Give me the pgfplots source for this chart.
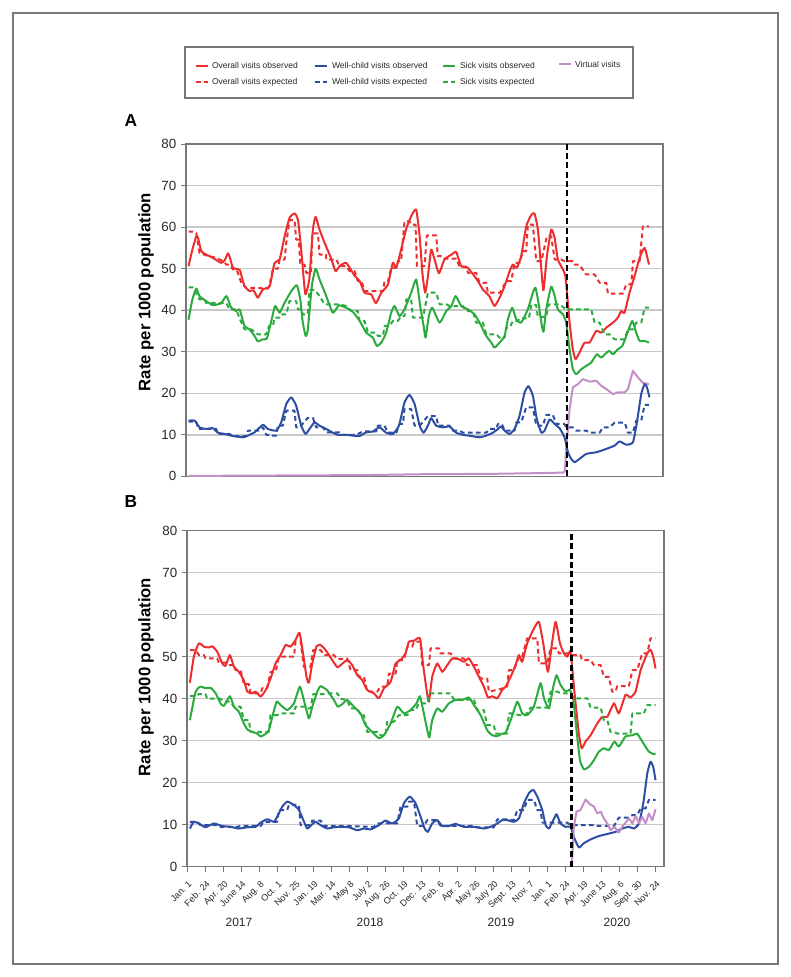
\documentclass[border=0pt]{standalone}
\usepackage{fontspec}
\setmainfont{Liberation Sans}
\usepackage{pgfplots}
\pgfplotsset{compat=1.18}
\definecolor{cred}{RGB}{237,45,46}
\definecolor{cblue}{RGB}{46,78,163}
\definecolor{cgreen}{RGB}{43,171,61}
\definecolor{cpurp}{RGB}{196,142,200}
\definecolor{cgrid}{RGB}{200,200,200}
\definecolor{caxis}{RGB}{120,120,120}
\definecolor{ctext}{RGB}{40,40,40}
\tikzset{
 obs/.style={solid, smooth, tension=0.3},
 exp/.style={dash pattern=on 3.5pt off 2.5pt},
 vline/.style={black, line width=1.8pt, dash pattern=on 4.5pt off 2.5pt},
}
\pgfplotsset{
 panel/.style={
  scale only axis, width=357.75pt,
  xmin=-0.05, xmax=26.45, ymin=0, ymax=80,
  ytick={0,10,...,80}, ymajorgrids,
  grid style={color=cgrid, line width=1.1pt},
  axis line style={color=caxis, line width=1.1pt},
  major tick style={color=caxis, line width=0.8pt},
  major tick length=3.75pt,
  tick align=outside, tick pos=left,
  yticklabel style={font=\fontsize{10}{12}\selectfont, color=ctext},
  /pgf/number format/assume math mode=true,
  every axis plot/.append style={line width=1.5pt, line join=round},
 },
}
\begin{document}
\begin{tikzpicture}
\useasboundingbox (0,0) rectangle (593.25pt,732.75pt);
\draw[caxis, line width=0.8pt] (9.75pt,9.75pt) rectangle (583.5pt,723pt);
% legend
\draw[caxis, line width=1.1pt] (138.75pt,659.25pt) rectangle (474.75pt,697.5pt);
\begin{scope}[font=\fontsize{6.4}{7.5}\selectfont, text=ctext, line width=1.5pt]
\draw[cred] (147pt,683.5pt) -- (156pt,683.5pt);
\node[anchor=west, inner sep=0pt] at (158.25pt,683.5pt) {Overall visits observed};
\draw[cred, exp] (147pt,671.25pt) -- (156pt,671.25pt);
\node[anchor=west, inner sep=0pt] at (158.25pt,671.25pt) {Overall visits expected};
\draw[cblue] (236.25pt,683.5pt) -- (245.25pt,683.5pt);
\node[anchor=west, inner sep=0pt] at (248.25pt,683.5pt) {Well-child visits observed};
\draw[cblue, exp] (236.25pt,671.25pt) -- (245.25pt,671.25pt);
\node[anchor=west, inner sep=0pt] at (248.25pt,671.25pt) {Well-child visits expected};
\draw[cgreen] (332.25pt,683.5pt) -- (341.25pt,683.5pt);
\node[anchor=west, inner sep=0pt] at (344.25pt,683.5pt) {Sick visits observed};
\draw[cgreen, exp] (332.25pt,671.25pt) -- (341.25pt,671.25pt);
\node[anchor=west, inner sep=0pt] at (344.25pt,671.25pt) {Sick visits expected};
\draw[cpurp] (419.25pt,684.75pt) -- (428.25pt,684.75pt);
\node[anchor=west, inner sep=0pt] at (430.5pt,684.75pt) {Virtual visits};
\end{scope}
% panel labels
\node[font=\bfseries\fontsize{13}{15}\selectfont] at (98.25pt,642pt) {A};
\node[font=\bfseries\fontsize{13}{15}\selectfont] at (98.25pt,356.25pt) {B};
\node[rotate=90, font=\bfseries\fontsize{12.5}{15}\selectfont] at (109.5pt,513.75pt) {Rate per 1000 population};
\node[rotate=90, font=\bfseries\fontsize{12.5}{15}\selectfont] at (109.5pt,225pt) {Rate per 1000 population};
% years
\begin{scope}[font=\fontsize{9}{11}\selectfont, text=ctext]
\node at (179.25pt,41.25pt) {2017};
\node at (277.5pt,41.25pt) {2018};
\node at (375.75pt,41.25pt) {2019};
\node at (462.75pt,41.25pt) {2020};
\end{scope}

%================ PANEL A
\begin{axis}[panel, at={(139.5pt,375.5pt)}, anchor=south west, height=249.2pt, xtick=\empty]
\addplot[cpurp] coordinates {(0.09,0.1) (5,0.2) (10,0.3) (13,0.5) (17,0.6) (20,0.8) (20.9,0.9) (21.0,1.2) (21.07,6.6) (21.26,16.2) (21.44,21.4) (21.72,22.2) (22.0,23.4) (22.37,22.8) (22.74,23) (23.02,21.8) (23.3,21) (23.67,19.8) (23.94,20.2) (24.31,20.2) (24.5,21) (24.78,25.4) (25.06,23.8) (25.33,22.5) (25.67,22.2)};
% overall expected
\addplot[cred, exp] coordinates {(0.09,58.9) (0.43,58.9) (0.52,58.6) (0.7,53.8) (1.07,53.2) (1.63,52.6) (2.0,51.8) (2.19,51) (2.37,51) (2.56,49.8) (2.74,49.8) (2.83,49) (3.02,46.6) (3.3,45.4) (3.57,45.4) (4.5,45.2) (4.59,46) (4.78,50) (5.06,50) (5.15,52.2) (5.43,52.2) (5.52,56.2) (5.7,61.7) (5.98,61.7) (6.07,57) (6.22,57) (6.3,51) (6.54,51) (6.63,49) (6.9,49) (6.96,58.5) (7.28,58.5) (7.37,53.4) (7.74,53.4) (7.74,52.2) (8.3,52.2) (8.48,50.6) (8.85,50.6) (9.04,49.4) (9.31,49.4) (9.5,47) (9.7,47) (9.87,44.6) (10.89,44.6) (10.98,47) (11.17,47) (11.35,50.2) (11.63,50.2) (11.72,51.8) (11.9,51.8) (12.09,61.4) (12.37,61.4) (12.46,60.6) (12.7,60.6) (12.78,50.6) (13.2,50.6) (13.33,58) (13.85,58) (13.94,53) (14.22,53) (14.31,52.4) (14.96,52.4) (15.15,50.5) (15.52,50.5) (15.61,49) (16.07,49) (16.26,46.6) (16.63,46.6) (16.72,44.2) (17.4,44.2) (17.74,47) (18.02,47) (18.2,51.4) (18.48,51.4) (18.67,54.2) (18.85,54.2) (18.94,60.6) (19.22,60.6) (19.41,51.8) (19.69,51.8) (20.0,57.8) (20.24,57.8) (20.43,52.2) (20.8,52.2) (20.98,51.8) (21.44,51.8) (21.52,51) (21.8,51) (22.17,48.6) (22.65,48.6) (22.93,46.6) (23.3,46.6) (23.39,44) (24.22,44) (24.41,46.2) (24.69,46.2) (24.78,51.8) (25.15,51.8) (25.33,60.2) (25.67,60.2)};
\addplot[cred, obs] coordinates {(0.09,50.6) (0.3,54.5) (0.52,57.8) (0.62,57.4) (0.8,54.2) (1.07,53.4) (1.44,52.6) (1.9,51.4) (2.1,52) (2.28,53.7) (2.4,52.5) (2.56,50.2) (2.93,49.7) (3.05,48) (3.2,45.8) (3.48,44.6) (3.7,44.8) (3.94,43.0) (4.22,45) (4.6,45.8) (4.87,51.4) (5.15,52.2) (5.43,57.8) (5.7,62.2) (5.98,63.3) (6.17,61.8) (6.35,54.6) (6.5,47) (6.59,43.8) (6.8,47.4) (7.0,59.4) (7.15,62.5) (7.37,59.4) (7.65,56.2) (8.0,52.6) (8.26,49.4) (8.48,50.6) (8.85,51.4) (9.33,48.2) (9.6,47) (9.87,44.2) (10.24,43.8) (10.5,41.7) (10.8,44.2) (11.17,46.2) (11.44,51.4) (11.63,50.2) (11.9,54.6) (12.2,59.8) (12.5,63) (12.74,64.2) (12.93,57.8) (13.1,48.2) (13.24,44.2) (13.39,48.2) (13.57,54.6) (13.76,52.2) (14.0,48.9) (14.31,52.2) (14.7,53.4) (14.96,54) (15.24,50.6) (15.6,50.2) (15.9,48.6) (16.17,47) (16.44,45) (16.8,43.4) (17.09,41) (17.37,43) (17.65,45.8) (17.93,49.4) (18.11,51) (18.33,50.2) (18.57,53) (18.85,60.2) (19.13,62.9) (19.31,63.3) (19.5,59.4) (19.69,49.8) (19.81,44.8) (20.0,53) (20.24,59.4) (20.43,57.4) (20.61,52.2) (20.89,49.8) (21.04,47.8) (21.26,37) (21.44,30.6) (21.59,28.2) (21.81,29.8) (22.09,32.2) (22.37,32.2) (22.74,35) (23.02,34.6) (23.3,35.8) (23.67,37) (23.94,38.2) (24.13,39.8) (24.31,39.4) (24.59,44.2) (24.87,48.2) (25.15,52.6) (25.43,55) (25.67,51)};
% sick
\addplot[cgreen, exp] coordinates {(0.09,45.5) (0.33,45.5) (0.7,42.6) (0.98,42.6) (1.07,41.7) (2.19,41.7) (2.37,40.2) (2.74,40.2) (2.93,38) (3.2,35.4) (3.57,35.4) (3.94,34.2) (4.41,34.2) (4.56,36.2) (4.78,36.2) (4.87,38.2) (5.15,38.2) (5.24,39) (5.52,39) (5.7,42.2) (6.07,42.2) (6.17,40.2) (6.35,40.2) (6.44,39) (6.72,39) (6.81,44.9) (7.09,44.9) (7.37,43.4) (7.65,41.4) (8.48,41.4) (8.85,41) (9.13,39.8) (9.5,39.8) (9.59,37.4) (9.87,37.4) (10.06,34.6) (10.52,34.6) (10.61,33.8) (10.89,33.8) (10.98,36.2) (11.26,36.2) (11.44,37.4) (11.72,37.4) (11.9,38.6) (12.09,38.6) (12.19,42.6) (12.46,42.6) (12.56,38.2) (13.11,38.2) (13.39,44.2) (13.85,44.2) (14.04,41.4) (14.41,41.4) (14.6,41) (15.33,41) (15.52,39.8) (15.89,39.8) (16.07,37) (16.44,37) (16.63,34.2) (17.19,34.2) (17.37,33.4) (17.65,33.4) (17.74,35.8) (17.93,35.8) (18.11,37.4) (18.39,37.4) (18.48,38) (19.0,38) (19.13,41.3) (19.4,41.3) (19.5,38.4) (19.96,38.4) (20.1,41.4) (20.7,41.4) (21.07,40.2) (22.46,40.2) (22.65,37) (22.93,37) (23.2,34.2) (23.48,34.2) (23.76,33) (24.31,33) (24.5,35.4) (24.78,35.4) (24.96,37) (25.24,37) (25.43,40.6) (25.67,40.6)};
\addplot[cgreen, obs] coordinates {(0.09,37.7) (0.3,42.5) (0.52,45.2) (0.7,43.4) (1.07,42.2) (1.44,41.2) (1.9,41.7) (2.2,43.4) (2.46,40.6) (2.74,39.8) (2.93,40.2) (3.2,36.2) (3.48,35.4) (3.76,33.8) (3.94,32.5) (4.22,33) (4.44,33.2) (4.67,37) (4.9,41) (5.15,39.4) (5.43,41.8) (5.8,44.6) (6.11,46) (6.3,42.6) (6.44,37) (6.6,33.8) (6.72,35.4) (6.94,45.8) (7.15,50) (7.37,47.4) (7.74,43.4) (8.1,39.4) (8.4,41) (8.48,41.2) (8.85,40.6) (9.22,39.6) (9.6,37.4) (9.96,34.6) (10.33,33.4) (10.55,31.4) (10.8,32.2) (11.07,34.6) (11.35,39.4) (11.54,41) (11.81,38.6) (12.09,40.2) (12.46,44.2) (12.74,47.4) (12.96,41) (13.15,36.2) (13.26,33.4) (13.44,38.6) (13.63,40.6) (14.04,37) (14.41,39.8) (14.69,41) (14.93,43.4) (15.24,41) (15.61,40.2) (15.98,39) (16.26,37) (16.63,33.8) (16.91,32.2) (17.09,31) (17.37,32.2) (17.65,33.8) (17.83,37.8) (18.07,40.6) (18.3,37.8) (18.57,37) (18.94,40.2) (19.22,44.2) (19.37,45.4) (19.56,41) (19.69,37) (19.81,34.8) (19.96,40.2) (20.24,45.7) (20.43,43.4) (20.61,40.2) (20.89,39) (21.07,37) (21.26,30.6) (21.44,25.8) (21.63,24.6) (21.91,25.8) (22.19,26.6) (22.46,27.4) (22.78,29.4) (23.02,28.6) (23.44,30.2) (23.67,29.4) (23.94,30.6) (24.19,31.4) (24.41,33.8) (24.74,37.4) (24.96,34.6) (25.15,32.6) (25.43,32.6) (25.67,32.2)};
% well-child
\addplot[cblue, exp] coordinates {(0.09,13.2) (0.52,13.2) (0.63,11.4) (1.63,11.4) (1.72,10.2) (2.37,10.2) (2.56,9.7) (3.3,9.7) (3.39,11) (4.04,11) (4.22,11.8) (4.41,10) (4.59,10) (4.74,9.8) (4.96,9.8) (5.06,12.2) (5.33,12.2) (5.52,15.8) (5.98,15.8) (6.07,11.8) (6.26,11.8) (6.72,14.1) (7.0,14.1) (7.18,11.8) (7.56,11.8) (7.74,10.6) (8.48,10.6) (8.6,10) (9.41,10) (9.78,10.8) (10.52,10.8) (10.61,12.2) (10.98,12.2) (11.17,10.5) (11.63,10.5) (11.81,12.6) (12.0,12.6) (12.09,16.2) (12.46,16.2) (12.65,12.2) (12.93,12.2) (13.39,14.5) (13.85,14.5) (13.96,12.2) (14.59,12.2) (14.78,11) (15.15,11) (15.33,10.5) (16.63,10.5) (16.81,11.4) (17.19,11.4) (17.28,12.6) (17.5,12.6) (17.65,11) (18.2,11) (18.3,13) (18.57,13) (18.85,16.6) (19.22,16.6) (19.41,12.2) (19.78,12.2) (19.96,14.8) (20.33,14.8) (20.52,12.6) (20.98,12.6) (21.07,11.8) (21.44,11.8) (21.63,11) (22.19,11) (22.37,10.5) (22.93,10.5) (23.11,11.8) (23.48,11.8) (23.76,12.9) (24.33,12.9) (24.5,10.5) (24.78,10.5) (24.96,13.4) (25.24,13.4) (25.43,17.2) (25.67,17.2)};
\addplot[cblue, obs] coordinates {(0.09,13.4) (0.43,13.4) (0.7,11.8) (1.07,11.4) (1.44,11.6) (1.72,10.5) (2.09,10.2) (2.56,9.7) (3.11,9.4) (3.39,9.8) (3.76,10.6) (4.22,12.4) (4.5,11.4) (4.96,11) (5.24,13) (5.52,17.4) (5.8,19) (6.07,17) (6.35,12.2) (6.59,10.2) (6.81,11.4) (7.09,13) (7.37,12.2) (7.74,11.4) (8.11,10.5) (8.39,10) (8.85,10) (9.22,9.8) (9.59,9.7) (9.96,10.6) (10.33,10.8) (10.7,11.8) (11.07,10.5) (11.44,10.2) (11.78,12.2) (12.09,17.8) (12.37,19.6) (12.65,17.4) (12.93,12.2) (13.15,10.5) (13.39,12.2) (13.57,14) (13.85,12.2) (14.22,11.8) (14.59,12) (14.96,10.5) (15.33,10) (15.8,9.7) (16.26,9.4) (16.63,9.8) (17.0,10.5) (17.28,11.4) (17.45,12) (17.65,11) (17.93,10.2) (18.2,11.4) (18.48,14.6) (18.76,20.2) (18.98,21.7) (19.22,19.4) (19.44,13.8) (19.69,10.5) (19.87,11) (20.15,13.7) (20.43,12.6) (20.7,11.6) (20.98,9.4) (21.17,5.8) (21.35,4.2) (21.54,3.4) (21.81,4.2) (22.19,5.4) (22.74,5.8) (23.3,6.6) (23.76,7.4) (24.04,8.4) (24.41,7.6) (24.78,8.2) (25.0,13) (25.24,19.8) (25.43,22.2) (25.56,21.4) (25.7,19)};
\addplot[vline] coordinates {(21.1,0) (21.1,80)};
\end{axis}

%================ PANEL B
\begin{axis}[panel, at={(140.25pt,82.7pt)}, anchor=south west, height=252pt,
  xtick={0,...,26},
  xticklabels={Jan. 1,Feb. 24,Apr. 20,June 14,Aug. 8,Oct. 1,Nov. 25,Jan. 19,Mar. 14,May 8,July 2,Aug. 26,Oct. 19,Dec. 13,Feb. 6,Apr. 2,May 26,July 20,Sept. 13,Nov. 7,Jan. 1,Feb. 24,Apr. 19,June 13,Aug. 6,Sept. 30,Nov. 24},
  xticklabel style={rotate=45, anchor=north east, font=\fontsize{6.8}{8}\selectfont, color=ctext, inner sep=1pt, xshift=-3.2pt, yshift=-3.2pt}]
\addplot[cred, exp] coordinates {(0.11,51.6) (0.43,51.6) (0.61,50.4) (0.89,50.4) (0.98,49.6) (1.63,49.6) (1.72,48.6) (2.09,48.6) (2.19,48) (2.56,48) (2.65,46.8) (2.93,46.8) (3.11,43.5) (3.39,43.5) (3.48,41.3) (4.04,41.3) (4.13,42.5) (4.41,42.5) (4.59,46.4) (4.87,46.4) (5.06,50) (5.89,50) (5.98,53.6) (6.26,53.6) (6.44,47.6) (6.81,47.6) (6.96,51.6) (7.37,51.6) (7.56,50.4) (8.11,50.4) (8.3,49.4) (8.85,49.6) (9.04,46.8) (9.41,46.8) (9.5,45.2) (9.78,45.2) (9.96,41.7) (10.52,41.7) (10.7,42.9) (11.07,42.9) (11.17,46) (11.54,46) (11.63,49.2) (12.0,49.2) (12.19,52.4) (12.46,52.4) (12.56,53.6) (12.93,53.6) (13.02,48) (13.39,48) (13.48,52) (13.94,52) (14.04,50.8) (14.59,50.8) (14.78,49.6) (15.33,49.6) (15.52,48) (16.07,48) (16.26,44.8) (16.63,44.8) (16.72,41.7) (17.37,42.3) (17.74,42.9) (17.83,46.8) (18.11,46.8) (18.39,50) (18.57,50) (18.85,54.4) (19.41,54.4) (19.5,48.4) (19.96,48.4) (20.15,52) (20.52,52) (20.61,50.8) (21.07,50.8) (21.26,50.4) (21.81,50.4) (21.89,49.2) (22.37,49.2) (22.56,48) (22.93,48) (23.11,45.2) (23.39,45.2) (23.57,41.7) (23.76,41.7) (23.85,43) (24.5,43) (24.69,46.8) (24.96,46.8) (25.24,50.8) (25.52,50.8) (25.7,54.4) (25.98,54.4)};
\addplot[cred, obs] coordinates {(0.11,43.8) (0.33,50) (0.61,53.2) (0.89,52.4) (1.17,52.2) (1.35,52.5) (1.63,51.2) (1.91,48.4) (2.09,47.8) (2.33,50.4) (2.56,47.6) (2.83,46.4) (3.11,44.4) (3.3,41.7) (3.57,41.3) (3.76,41.7) (4.04,40.5) (4.31,42) (4.59,44.8) (4.87,48.4) (5.15,50.4) (5.43,52.8) (5.7,52.4) (5.98,54) (6.2,55.7) (6.41,50.4) (6.59,45.2) (6.72,43.8) (6.91,48.4) (7.15,52.5) (7.37,52.8) (7.65,51.6) (8.02,49.2) (8.3,47.5) (8.48,48) (8.85,49.2) (9.13,48) (9.41,45.6) (9.69,44.4) (9.96,42.1) (10.33,41.3) (10.61,40.1) (10.89,42.5) (11.26,44) (11.54,48.4) (11.81,49.2) (12.09,50.8) (12.28,53.6) (12.56,53.8) (12.89,54.4) (13.07,48) (13.26,42.1) (13.39,39.3) (13.57,45.2) (13.85,48.4) (14.13,46.4) (14.41,48) (14.69,49.6) (15.06,49.4) (15.33,48.8) (15.61,49.6) (15.89,47.6) (16.17,45.2) (16.44,42.9) (16.67,40.3) (16.91,40.6) (17.19,40.1) (17.46,42.1) (17.65,42.9) (17.93,45.2) (18.2,48) (18.39,50.4) (18.57,48.8) (18.85,53.2) (19.22,56.7) (19.5,58.3) (19.74,53.2) (20.0,46.4) (20.24,53.6) (20.43,58.3) (20.67,53.2) (20.89,50.8) (21.07,50) (21.26,51.2) (21.48,41.3) (21.72,31.7) (21.87,28.2) (22.09,29.8) (22.37,31.3) (22.74,34.1) (23.02,35.7) (23.3,35.7) (23.67,38.9) (23.94,36.5) (24.31,40.9) (24.59,40.3) (24.87,41.7) (25.15,46.8) (25.52,50.8) (25.7,51.7) (25.85,50) (25.98,47.2)};
\addplot[cgreen, exp] coordinates {(0.11,40.6) (0.43,40.6) (0.61,41.1) (0.98,41.1) (1.07,40) (1.81,40) (2.0,39.3) (2.37,39.3) (2.56,38.1) (2.93,38.1) (3.11,34.9) (3.39,34.9) (3.48,32.1) (4.5,32.1) (4.59,36.1) (4.96,36.1) (5.15,36.5) (5.89,36.5) (5.98,38.1) (6.54,38.1) (6.63,37.7) (6.81,37.7) (6.96,41.1) (7.56,41.1) (7.74,41.3) (8.3,41.3) (8.48,40) (8.85,39.7) (9.04,37.7) (9.41,37.7) (9.59,36.1) (9.78,36.1) (9.96,32.1) (10.52,32.1) (10.7,31.3) (10.98,31.3) (11.07,34.5) (11.44,34.5) (11.72,36.1) (12.19,36.1) (12.37,37.3) (12.65,37.3) (12.83,38.9) (13.3,38.9) (13.48,41.3) (14.59,41.3) (14.78,39.8) (15.89,39.8) (16.07,37.3) (16.44,37.3) (16.63,33.7) (17.0,33.7) (17.09,31.7) (17.74,31.7) (17.83,36.5) (18.11,36.5) (18.39,36.1) (18.76,36.1) (19.04,37.9) (19.96,37.9) (20.15,41.7) (20.52,41.7) (20.7,41.3) (21.26,41.3) (21.44,40.1) (22.19,40.1) (22.37,37.9) (22.93,37.9) (23.11,34.9) (23.3,34.9) (23.48,32.1) (23.67,32.1) (23.85,31.7) (24.59,31.7) (24.69,36.5) (25.33,36.5) (25.52,38.5) (25.98,38.5)};
\addplot[cgreen, obs] coordinates {(0.11,34.9) (0.43,41.7) (0.7,42.9) (0.98,42.5) (1.26,42.6) (1.54,41.3) (1.81,38.9) (2.0,38.3) (2.33,40.6) (2.56,38.1) (2.83,36.9) (3.11,34.1) (3.3,32.7) (3.57,32.1) (3.85,31.7) (4.04,31) (4.31,31.6) (4.5,32.5) (4.69,35.7) (4.93,39.3) (5.15,38.5) (5.52,37.3) (5.89,38.9) (6.22,42.9) (6.44,39.7) (6.72,35.3) (6.91,38.1) (7.19,41.7) (7.37,43) (7.74,42) (8.11,39.7) (8.33,38.1) (8.57,38.7) (8.85,39.7) (9.22,38.1) (9.59,36.5) (9.87,33.7) (10.24,32.1) (10.61,30.6) (10.89,31.3) (11.26,34.1) (11.63,38.1) (12.0,36.5) (12.37,37.3) (12.7,38.9) (12.89,40.6) (13.07,37.3) (13.26,33.3) (13.41,30.8) (13.57,34.9) (13.85,37.7) (14.13,36.9) (14.5,38.9) (14.87,39.7) (15.24,39.7) (15.61,40.3) (15.89,38.5) (16.26,36.1) (16.63,32.5) (16.91,31.3) (17.19,31.1) (17.46,31.7) (17.65,31.9) (17.93,34.9) (18.3,39.3) (18.57,36.5) (18.85,36.1) (19.22,38.1) (19.59,43.7) (19.78,40.1) (20.06,37.7) (20.3,42.9) (20.48,45.6) (20.7,43.3) (20.98,41.7) (21.22,42.1) (21.41,39.7) (21.59,32.5) (21.78,25.4) (22.0,23.2) (22.28,23.8) (22.56,25.4) (22.83,27.4) (23.11,28.2) (23.39,27.8) (23.7,29.8) (23.94,28.6) (24.31,31) (24.69,31.3) (24.96,31.7) (25.24,29.8) (25.61,27.4) (25.89,26.8) (25.98,26.8)};
\addplot[cblue, exp] coordinates {(0.11,10.7) (0.52,10.7) (0.7,9.9) (1.63,9.9) (1.72,9.5) (2.74,9.5) (2.93,9.7) (4.04,9.7) (4.22,10.7) (4.96,10.7) (5.06,13.5) (5.52,13.5) (5.61,14.7) (6.17,14.7) (6.26,9.9) (6.81,9.9) (6.91,11) (7.37,11) (7.56,9.7) (8.76,9.7) (10.33,9.5) (10.52,10.3) (11.63,10.3) (11.81,14.3) (12.19,14.3) (12.28,15.5) (12.56,15.5) (12.74,9.7) (13.11,9.7) (13.3,11.1) (13.85,11.1) (14.04,9.7) (15.89,9.7) (16.07,9.4) (17.0,9.4) (17.19,11.3) (17.65,11.3) (18.11,11.1) (18.3,13.5) (18.67,13.5) (18.85,15.9) (19.22,15.9) (19.41,13.5) (19.59,13.5) (19.69,10.5) (21.07,10.5) (21.26,9.9) (22.56,9.9) (22.74,9.7) (23.67,9.7) (23.94,11.7) (24.5,11.7) (24.69,12.3) (24.96,12.3) (25.15,13.9) (25.43,13.9) (25.61,15.9) (25.98,15.9)};
\addplot[cblue, obs] coordinates {(0.11,9.1) (0.33,10.7) (0.61,10.3) (0.98,9.4) (1.44,10.3) (1.91,9.7) (2.37,9.5) (2.83,9.1) (3.3,9.4) (3.76,9.5) (4.04,10.5) (4.41,11.3) (4.78,10.7) (4.96,11.9) (5.24,14.3) (5.52,15.5) (5.89,14.7) (6.17,13.5) (6.41,11.1) (6.63,9.1) (6.85,9.9) (7.09,10.7) (7.37,9.9) (7.74,9.1) (8.11,9.4) (8.48,9.5) (8.94,9.4) (9.41,8.7) (9.78,9.1) (10.15,8.9) (10.61,9.9) (10.98,11) (11.35,10.3) (11.72,11.5) (12.0,15.1) (12.33,16.7) (12.65,15.1) (12.93,11.9) (13.15,9.1) (13.33,8.3) (13.57,10.3) (13.85,11.1) (14.13,9.7) (14.5,9.7) (14.87,10.2) (15.33,9.5) (15.89,9.5) (16.44,9.1) (16.81,9.5) (17.19,10.3) (17.46,11.1) (17.74,11.1) (18.11,10.7) (18.39,11.5) (18.67,15.1) (18.96,17.6) (19.19,18.3) (19.41,16.7) (19.69,13.5) (19.87,9.9) (20.06,9.1) (20.3,11.1) (20.48,12.5) (20.7,10.3) (20.98,9.5) (21.26,9.5) (21.44,7.1) (21.72,4.6) (22.0,5.6) (22.37,6.5) (22.83,7.3) (23.3,7.8) (23.76,8.3) (24.13,9.1) (24.5,9.5) (24.78,9.1) (25.06,10.3) (25.3,15.1) (25.52,22.2) (25.7,25) (25.85,23.8) (25.98,20.6)};
\addplot[cpurp] coordinates {(21.33,0) (21.44,9.5) (21.59,13.1) (21.81,13.5) (22.09,16) (22.33,14.9) (22.56,14.3) (22.74,12.7) (22.93,13.1) (23.11,11.5) (23.3,10.3) (23.48,8.7) (23.7,9.5) (23.94,8.1) (24.13,9.5) (24.31,10.5) (24.5,11.5) (24.69,10.3) (24.87,12.1) (25.06,10.3) (25.24,11.9) (25.43,10.3) (25.61,12.7) (25.8,11.1) (25.98,13.7)};
\addplot[vline] coordinates {(21.32,0) (21.32,80)};
\end{axis}
\end{tikzpicture}
\end{document}
